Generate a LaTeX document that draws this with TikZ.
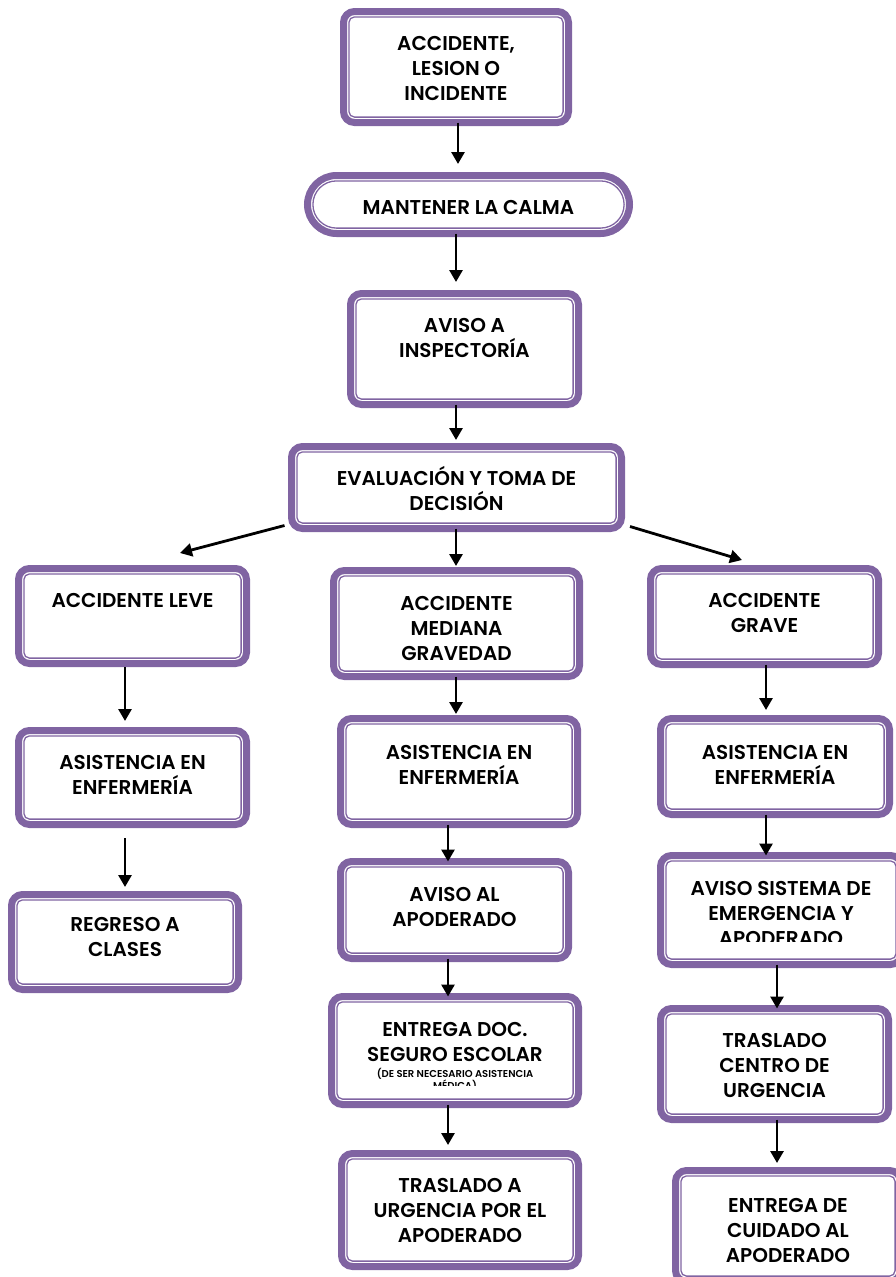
\documentclass[tikz,border=0pt]{standalone}
\usepackage{fontspec}
\setmainfont{Poppins}[BoldFont={Poppins SemiBold}]
\usepackage{xcolor}
\usetikzlibrary{arrows.meta, positioning, calc}
\definecolor{boxpurple}{HTML}{8064A2}

\begin{document}
\begin{tikzpicture}[
  x=1pt, y=-1pt,
  innerline/.style={draw=boxpurple, line width=1.3pt, rounded corners=5.6pt},
  flowbox/.style={draw=boxpurple, line width=7pt, fill=white, rounded corners=11pt,
    inner sep=0pt, outer sep=0pt},
  calmbox/.style={flowbox, rounded corners=29pt},
  boxtext/.style={align=center, inner sep=0pt, font=\fontsize{20}{25}\selectfont\bfseries},
  smalltext/.style={align=center, inner sep=0pt, font=\fontsize{10}{11.5}\selectfont\bfseries},
  flowarrow/.style={-{Triangle[width=13pt,length=12pt]}, line width=2.8pt, black},
]
  \useasboundingbox (0,0) rectangle (896,1277);

  % Top chain
  \node[flowbox, minimum width=225, minimum height=111] (acc) at (456,67) {};
  \node[boxtext, below=25pt of acc.north] (acc-t) {ACCIDENTE,\\LESION O\\INCIDENTE};

  \node[calmbox, minimum width=322, minimum height=58] (calm) at (468.5,204.5) {};
  \node[boxtext, below=24.5pt of calm.north] (calm-t) {MANTENER LA CALMA};

  \node[flowbox, minimum width=228, minimum height=111] (insp) at (464.5,349) {};
  \node[boxtext, below=25pt of insp.north] (insp-t) {AVISO A\\INSPECTORÍA};

  \node[flowbox, minimum width=330, minimum height=82] (eval) at (456.5,487.5) {};
  \node[boxtext, below=20pt of eval.north] (eval-t) {EVALUACIÓN Y TOMA DE\\DECISIÓN};

  % Left column: leve
  \node[flowbox, minimum width=228, minimum height=95] (leve) at (132.5,616) {};
  \node[boxtext, below=24.5pt of leve.north] (leve-t) {ACCIDENTE LEVE};

  \node[flowbox, minimum width=228, minimum height=94] (leve-enf) at (132.5,777.5) {};
  \node[boxtext, below=24.5pt of leve-enf.north] (leve-enf-t) {ASISTENCIA EN\\ENFERMERÍA};

  \node[flowbox, minimum width=227, minimum height=95] (clases) at (125,942) {};
  \node[boxtext, below=22.5pt of clases.north] (clases-t) {REGRESO A\\CLASES};

  % Middle column: mediana gravedad
  \node[flowbox, minimum width=246, minimum height=106] (med) at (456.5,623.5) {};
  \node[boxtext, below=25.5pt of med.north] (med-t) {ACCIDENTE\\MEDIANA\\GRAVEDAD};

  \node[flowbox, minimum width=237, minimum height=106] (med-enf) at (459,771.5) {};
  \node[boxtext, below=26.5pt of med-enf.north] (med-enf-t) {ASISTENCIA EN\\ENFERMERÍA};

  \node[flowbox, minimum width=228, minimum height=97] (med-apod) at (454.5,910) {};
  \node[boxtext, below=25.5pt of med-apod.north] (med-apod-t) {AVISO AL\\APODERADO};

  \node[flowbox, minimum width=247, minimum height=108] (seguro) at (455,1050.5) {};
  \node[boxtext, below=25.5pt of seguro.north] (seguro-t) {ENTREGA DOC.\\SEGURO ESCOLAR};
  \begin{scope}
    \clip ([yshift=19pt]seguro.south west) rectangle (seguro.north east);
    \node[smalltext, below=6pt of seguro-t] (seguro-s) {(DE SER NECESARIO ASISTENCIA\\MÉDICA)};
  \end{scope}

  \node[flowbox, minimum width=237, minimum height=113] (med-urg) at (460,1210) {};
  \node[boxtext, below=24.5pt of med-urg.north] (med-urg-t) {TRASLADO A\\URGENCIA POR EL\\APODERADO};

  % Right column: grave
  \node[flowbox, minimum width=228, minimum height=96] (grave) at (764.5,616.5) {};
  \node[boxtext, below=24.5pt of grave.north] (grave-t) {ACCIDENTE\\GRAVE};

  \node[flowbox, minimum width=229, minimum height=96] (grave-enf) at (775,766.5) {};
  \node[boxtext, below=26.5pt of grave-enf.north] (grave-enf-t) {ASISTENCIA EN\\ENFERMERÍA};

  \node[flowbox, minimum width=241, minimum height=109] (emerg) at (781,910) {};
  \begin{scope}
    \clip ([yshift=23pt]emerg.south west) rectangle (emerg.north east);
    \node[boxtext, below=25.5pt of emerg.north] (emerg-t) {AVISO SISTEMA DE\\EMERGENCIA Y\\APODERADO};
  \end{scope}

  \node[flowbox, minimum width=228, minimum height=111] (centro) at (774.5,1064) {};
  \node[boxtext, below=24.5pt of centro.north] (centro-t) {TRASLADO\\CENTRO DE\\URGENCIA};

  \node[flowbox, minimum width=225, minimum height=111] (cuidado) at (788,1226) {};
  \node[boxtext, below=27.5pt of cuidado.north] (cuidado-t) {ENTREGA DE\\CUIDADO AL\\APODERADO};

  % Inner frame lines
  \foreach \b in {acc, insp, eval, leve, leve-enf, clases, med, med-enf, med-apod,
                  seguro, med-urg, grave, grave-enf, emerg, centro, cuidado}
    \draw[innerline] ([shift={(5.4pt,5.4pt)}]\b.south west) rectangle ([shift={(-5.4pt,-5.4pt)}]\b.north east);
  \draw[innerline, rounded corners=23.6pt] ([shift={(5.4pt,5.4pt)}]calm.south west) rectangle ([shift={(-5.4pt,-5.4pt)}]calm.north east);

  % Arrows
  \draw[flowarrow, shorten >=11.5pt] ([xshift=2pt]acc.south) -- ([xshift=2pt]acc.south |- calm.north);
  \draw[flowarrow, shorten >=11.5pt] (calm.south -| acc-t) -- (insp.north -| acc-t);
  \draw[flowarrow, shorten >=6.5pt] (insp.south -| acc-t) -- (eval.north -| acc-t);
  \draw[flowarrow, shorten >=4.5pt] (eval.south -| acc-t) -- (med.north -| acc-t);
  \draw[flowarrow] ([shift={(-7pt,3pt)}]eval.south west) -- ([shift={(47.5pt,15.5pt)}]leve.north);
  \draw[flowarrow] ([shift={(8.5pt,2pt)}]eval.south east) -- ([shift={(-22.5pt,8.5pt)}]grave.north);

  \draw[flowarrow, shorten <=3.5pt, shorten >=9.5pt] (leve.south -| clases.north) -- (leve-enf.north -| clases.north);
  \draw[flowarrow, shorten <=13.5pt, shorten >=7.5pt] (leve-enf.south -| clases.north) -- (clases.north);

  \draw[flowarrow, shorten >=4.5pt] (med.south -| acc-t) -- (med-enf.north -| acc-t);
  \draw[flowarrow] ([xshift=-11pt]med-enf.south) -- ([xshift=-6.5pt]med-apod.north);
  \draw[flowarrow] ([xshift=-6.5pt]med-apod.south) -- ([xshift=-7pt]seguro.north);
  \draw[flowarrow, shorten >=8.5pt] ([xshift=-7pt]seguro.south) -- ([xshift=-12pt]med-urg.north);

  \draw[flowarrow, shorten >=8.5pt] ([xshift=1.5pt]grave.south) -- ([xshift=-9pt]grave-enf.north);
  \draw[flowarrow] ([xshift=-9pt]grave-enf.south) -- ([xshift=-15pt]emerg.north);
  \draw[flowarrow] ([xshift=-4pt]emerg.south) -- ([xshift=2.5pt]centro.north);
  \draw[flowarrow, shorten >=7.5pt] ([xshift=2.5pt]centro.south) -- ([xshift=-11pt]cuidado.north);
\end{tikzpicture}
\end{document}
